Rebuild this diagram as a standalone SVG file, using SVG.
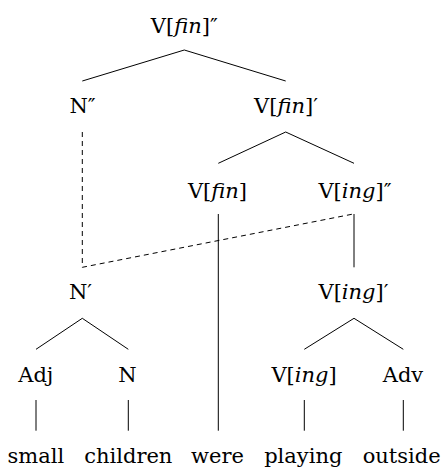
<svg xmlns="http://www.w3.org/2000/svg" width="443" height="468" viewBox="0 0 443 468">
<style>
text{font-family:'DejaVu Serif',serif;font-size:21px;fill:#000;text-anchor:middle}
.i{font-style:italic}
.e{stroke:#000;stroke-width:1;fill:none}
.d{stroke:#000;stroke-width:1;fill:none;stroke-dasharray:5 4}
</style>
<rect width="443" height="468" fill="#fff"/>
<g id="connectors">
<polyline class="e" points="82.3,81 184.3,50 285.7,81"/>
<polyline class="e" points="218.3,163.3 285.7,132 354,163.3"/>
<line class="e" x1="218.3" y1="214" x2="218.3" y2="430.7"/>
<line class="e" x1="354" y1="214" x2="354" y2="267.3"/>
<polyline class="d" points="82.3,132 82.3,267.3 353.3,214"/>
<polyline class="e" points="36,349.3 82.3,318.3 128.3,349.3"/>
<polyline class="e" points="304.3,349.3 354,318.3 403.3,349.3"/>
<line class="e" x1="36" y1="400" x2="36" y2="430.7"/>
<line class="e" x1="128.3" y1="400" x2="128.3" y2="430.7"/>
<line class="e" x1="304.3" y1="400" x2="304.3" y2="430.7"/>
<line class="e" x1="403.3" y1="400" x2="403.3" y2="430.7"/>
</g>
<g id="n-vfin2"><text x="184.3" y="32.5">V[<tspan class="i">fin</tspan>]″</text></g>
<g id="n-n2"><text x="82.5" y="112.7">N″</text></g>
<g id="n-vfin1"><text x="286" y="112.7">V[<tspan class="i">fin</tspan>]′</text></g>
<g id="n-vfin0"><text x="217.5" y="198.3">V[<tspan class="i">fin</tspan>]</text></g>
<g id="n-ving2"><text x="355" y="198.3">V[<tspan class="i">ing</tspan>]″</text></g>
<g id="n-n1"><text x="80.5" y="299">N′</text></g>
<g id="n-ving1"><text x="353.5" y="299">V[<tspan class="i">ing</tspan>]′</text></g>
<g id="n-adj"><text x="35.8" y="381.7">Adj</text></g>
<g id="n-n0"><text x="127.5" y="381.7">N</text></g>
<g id="n-ving0"><text x="304" y="381.7">V[<tspan class="i">ing</tspan>]</text></g>
<g id="n-adv"><text x="403" y="381.7">Adv</text></g>
<g id="w-small"><text x="35.8" y="463">small</text></g>
<g id="w-children"><text x="128.3" y="463">children</text></g>
<g id="w-were"><text x="217.5" y="463">were</text></g>
<g id="w-playing"><text x="303.3" y="463">playing</text></g>
<g id="w-outside"><text x="401.7" y="463">outside</text></g>
</svg>
